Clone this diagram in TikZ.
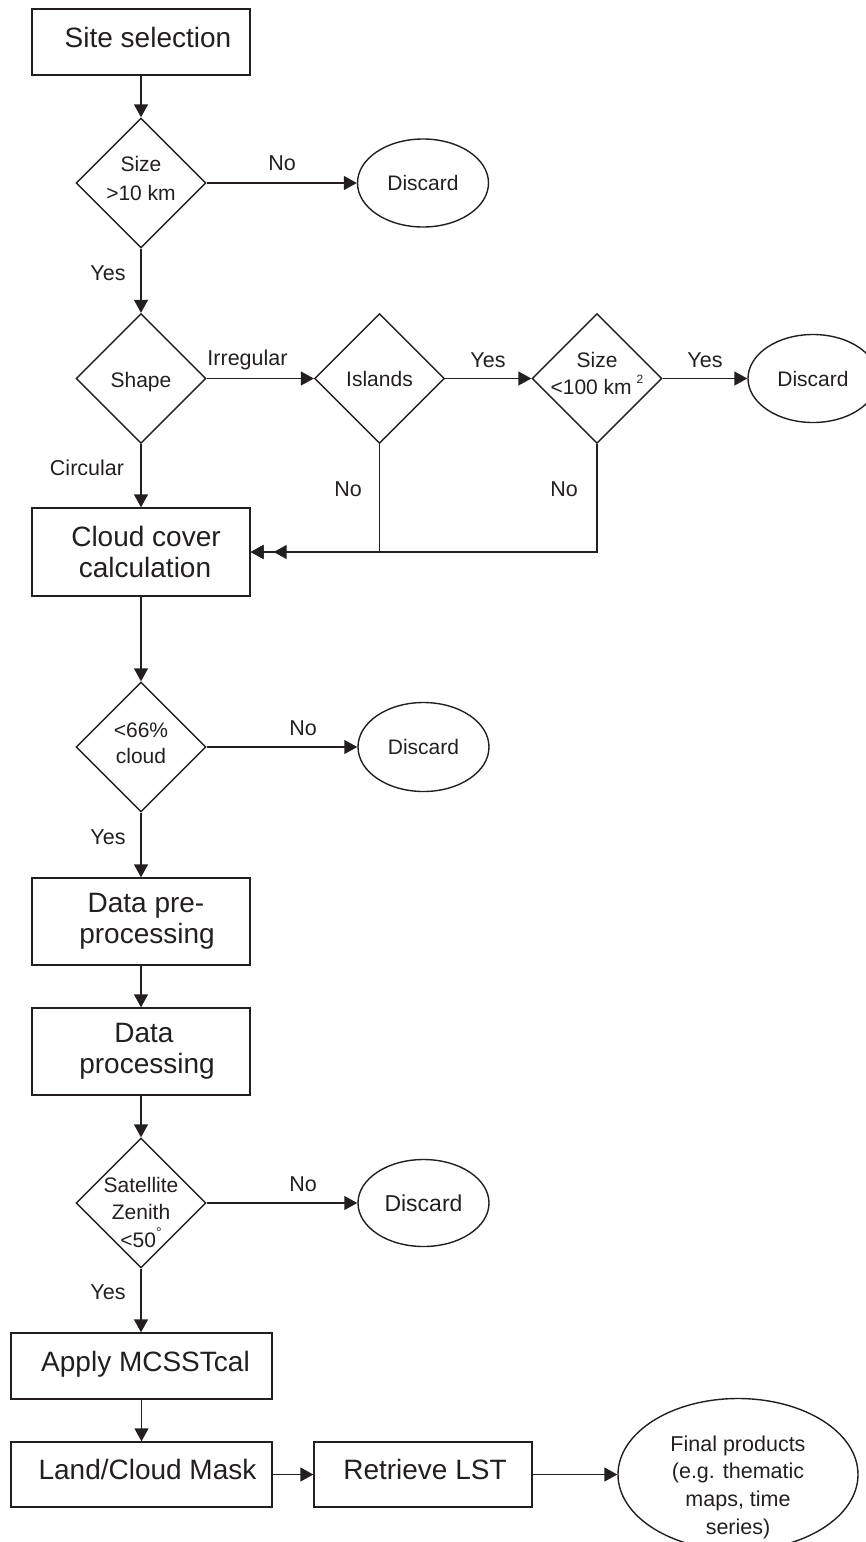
\documentclass[tikz,border=0pt]{standalone}
\usepackage{fontspec}
\setmainfont{Liberation Sans}
\usetikzlibrary{shapes.geometric,arrows.meta}
\definecolor{ink}{HTML}{231F20}
\tikzset{
  box/.style={draw=ink, text=ink, line width=1.4pt, rectangle, inner sep=0pt, align=center,
    font=\fontsize{28}{31}\selectfont},
  onebox/.style={box, text height=20pt, text depth=10pt},
  dia/.style={draw=ink, line width=1.4pt, diamond, inner sep=0pt,
    minimum width=130pt, minimum height=130pt},
  dtext/.style={text=ink, align=center, inner sep=0pt, font=\fontsize{21}{27}\selectfont},
  lbl/.style={text=ink, inner sep=0pt, text height=15pt, text depth=0pt,
    font=\fontsize{21.5}{24}\selectfont},
  oval/.style={draw=ink, text=ink, line width=1.4pt, ellipse, inner sep=0pt,
    font=\fontsize{21}{24}\selectfont},
  conn/.style={draw=ink, line width=1.4pt, -{Triangle[length=13pt,width=14pt]}},
  dconn/.style={draw=ink, line width=1.4pt,
    -{Triangle[length=13pt,width=14pt,sep=10pt]Triangle[length=13pt,width=14pt]}},
}
\begin{document}
\begin{tikzpicture}[x=1pt,y=-1pt]
\useasboundingbox (0,0) rectangle (866,1542);

% boxes
\node[onebox, minimum width=218pt, minimum height=66pt] (site) at (141,42) {\hspace*{14pt}Site selection};
\node[box, minimum width=218pt, minimum height=88pt] (cloud) at (141,552) {\hspace*{10pt}Cloud cover\\\hspace*{8pt}calculation};
\node[box, minimum width=218pt, minimum height=87pt] (pre) at (141,921.5) {\hspace*{10pt}Data pre-\\\hspace*{12pt}processing};
\node[box, minimum width=218pt, minimum height=87pt] (proc) at (141,1051.5) {\hspace*{6pt}Data\\\hspace*{12pt}processing};
\node[onebox, minimum width=261pt, minimum height=66pt] (apply) at (141.5,1366) {\hspace*{8pt}Apply MCSSTcal};
\node[onebox, minimum width=261pt, minimum height=65pt] (land) at (141.5,1474.5) {\hspace*{12pt}Land/Cloud Mask};
\node[onebox, minimum width=218pt, minimum height=65pt] (ret) at (423,1474.5) {\hspace*{4pt}Retrieve LST};

% diamonds
\node[dia] (d1) at (141,183) {};
\node[dtext, font=\fontsize{21}{29}\selectfont] (t1) at (141,178.5) {Size\\>10 km};
\node[dia] (shape) at (141,378.5) {};
\node[dtext, text height=15pt, text depth=0pt] (tshape) at (141,380) {Shape};
\node[dia] (isl) at (379.5,378.5) {};
\node[dtext, text height=15pt, text depth=0pt] (tisl) at (379.5,379) {Islands};
\node[dia] (sz) at (597,378.5) {};
\node[dtext] (tsz) at (597,373.5) {Size\\<100 km\hspace{5pt}\raisebox{11pt}[0pt][0pt]{\fontsize{12}{12}\selectfont 2}};
\node[dia] (d3) at (141,747) {};
\node[dtext, font=\fontsize{21}{26}\selectfont] (t3) at (141,743) {<66\%\\cloud};
\node[dia] (d4) at (141,1203) {};
\node[dtext, font=\fontsize{21}{27.5}\selectfont] (t4) at (141,1212) {Satellite\\Zenith\\<50\raisebox{10pt}[0pt][0pt]{\fontsize{14}{14}\selectfont °}};

% ovals
\node[oval, minimum width=131pt, minimum height=88pt] (dis1) at (423,183) {Discard};
\node[oval, minimum width=130pt, minimum height=88pt] (dis2) at (813,378.5) {Discard};
\node[oval, minimum width=131pt, minimum height=89pt] (dis3) at (423.5,747) {Discard};
\node[oval, minimum width=131pt, minimum height=87pt, font=\fontsize{23}{26}\selectfont] (dis4) at (423.5,1203) {Discard};
\node[oval, minimum width=240pt, minimum height=152pt] (final) at (738,1474.5) {};
\node[dtext, font=\fontsize{21.5}{27.7}\selectfont] (tfinal) at (738,1487) {Final products\\(e.g. thematic\\maps, time\\series)};

% labels
\node[lbl] (no1) at (282,163) {No};
\node[lbl] (yes1) at (108,273) {Yes};
\node[lbl] (irr) at (247.5,358) {Irregular};
\node[lbl] (circ) at (87,468) {Circular};
\node[lbl] (yes2) at (488,360) {Yes};
\node[lbl] (yes3) at (705,360) {Yes};
\node[lbl] (no2) at (348,489) {No};
\node[lbl] (no3) at (564,489) {No};
\node[lbl] (no4) at (303,728) {No};
\node[lbl] (yes4) at (108,837) {Yes};
\node[lbl] (no5) at (303,1184) {No};
\node[lbl] (yes5) at (108,1292) {Yes};

% connectors
\draw[conn] (site.south) -- (d1.north);
\draw[conn] (d1.east) -- (dis1.west);
\draw[conn] (d1.south) -- (shape.north);
\draw[conn] (shape.east) -- (isl.west);
\draw[conn] (isl.east) -- (sz.west);
\draw[conn] (sz.east) -- (dis2.west);
\draw[conn] (shape.south) -- (cloud.north);
\draw[conn] (isl.south) |- (cloud.east);
\draw[dconn] (sz.south) |- (cloud.east);
\draw[conn] (cloud.south) -- (d3.north);
\draw[conn] (d3.east) -- (dis3.west);
\draw[conn] (d3.south) -- (pre.north);
\draw[conn] (pre.south) -- (proc.north);
\draw[conn] (proc.south) -- (d4.north);
\draw[conn] (d4.east) -- (dis4.west);
\draw[conn] (d4.south) -- (d4.south |- apply.north);
\draw[conn] (apply.south) -- (land.north);
\draw[conn] (land.east) -- (ret.west);
\draw[conn] (ret.east) -- (final.west);
\end{tikzpicture}
\end{document}
